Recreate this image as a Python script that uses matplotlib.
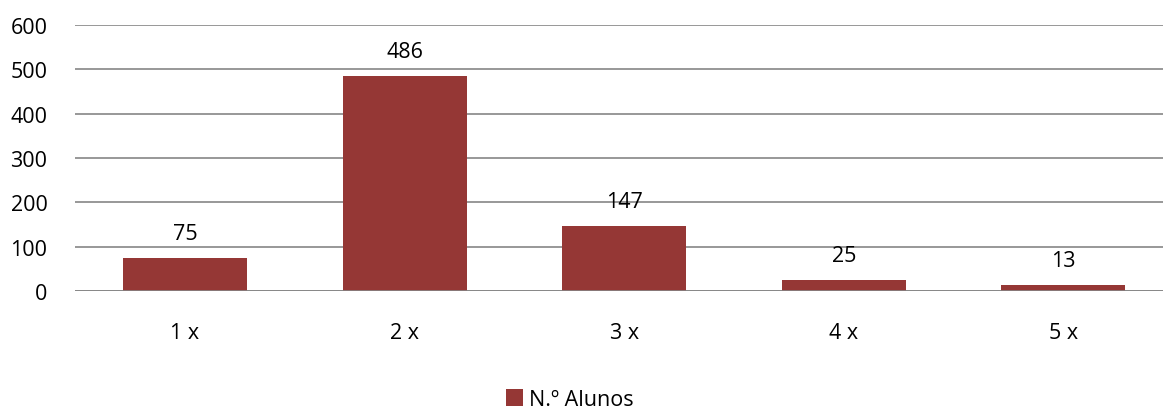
import matplotlib
matplotlib.use("Agg")
import matplotlib.pyplot as plt
import numpy as np

plt.rcParams['font.family'] = ['Open Sans', 'DejaVu Sans']

categories = ["1 x", "2 x", "3 x", "4 x", "5 x"]
alunos = [75, 486, 147, 25, 13]
yticks = [0, 100, 200, 300, 400, 500, 600]

fig = plt.figure(figsize=(11.63, 4.14), dpi=100)
ax = fig.add_axes([0.0647, 0.2947, 0.944, 0.6425])

x = np.arange(len(categories))
bars = ax.bar(x, alunos, width=0.565, color="#953735", label="N.º Alunos", zorder=3)
for b, v in zip(bars, alunos):
    ax.annotate(str(v), (b.get_x() + b.get_width() / 2, v), xytext=(0, 10),
                textcoords="offset points", ha="center", va="bottom", fontsize=15.5)

ax.set_xlim(-0.5, len(categories) - 0.5)
ax.set_ylim(0, 600)
ax.set_yticks(yticks)
ax.set_xticks(x)
ax.set_xticklabels(categories)
ax.yaxis.grid(True, color="#868686", linewidth=1.2, zorder=0)
for s in ax.spines.values():
    s.set_visible(False)
ax.axhline(0, color="#868686", linewidth=1.2, zorder=4)
ax.tick_params(axis="both", length=0, labelsize=15.5)
ax.tick_params(axis="y", pad=20)
ax.tick_params(axis="x", pad=22)

fig.legend(handles=[bars], labels=["N.º Alunos"], loc="lower center", bbox_to_anchor=(0.49, -0.04),
           frameon=False, fontsize=15.5, handlelength=0.8, handleheight=0.8, handletextpad=0.3)

fig.savefig("out.png", dpi=100)
